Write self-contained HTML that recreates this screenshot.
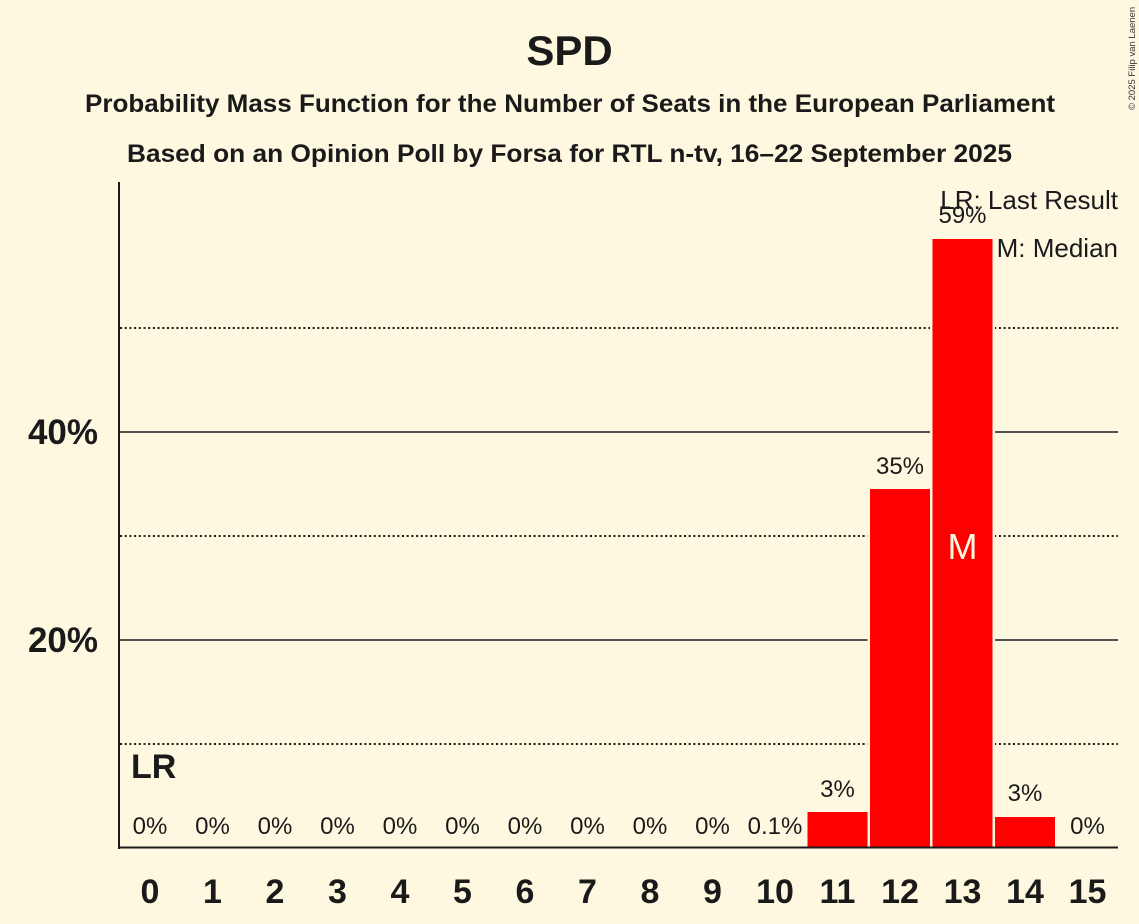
<!DOCTYPE html>
<html><head><meta charset="utf-8"><style>
html,body{margin:0;padding:0;background:#FFF8E1;}
svg{display:block;}
text{font-family:"Liberation Sans",sans-serif;fill:#1a1a1a;}
</style></head><body>
<svg width="1139" height="924" viewBox="0 0 1139 924" xmlns="http://www.w3.org/2000/svg">
<rect x="0" y="0" width="1139" height="924" fill="#FFF8E1"/>
<!-- titles -->
<text x="569.5" y="65" font-size="42" font-weight="bold" text-anchor="middle">SPD</text>
<text x="570" y="112" font-size="25" font-weight="bold" text-anchor="middle" textLength="970" lengthAdjust="spacingAndGlyphs">Probability Mass Function for the Number of Seats in the European Parliament</text>
<text x="569.5" y="162" font-size="25" font-weight="bold" text-anchor="middle" textLength="885" lengthAdjust="spacingAndGlyphs">Based on an Opinion Poll by Forsa for RTL n-tv, 16–22 September 2025</text>
<!-- copyright -->
<text transform="translate(1135,110) rotate(-90)" font-size="9.5" style="fill:#333">© 2025 Filip van Laenen</text>
<!-- gridlines -->
<g stroke="#1a1a1a">
<line x1="120" y1="744" x2="1118" y2="744" stroke-width="2" stroke-dasharray="2 2.7"/>
<line x1="120" y1="536" x2="1118" y2="536" stroke-width="2" stroke-dasharray="2 2.7"/>
<line x1="120" y1="328" x2="1118" y2="328" stroke-width="2" stroke-dasharray="2 2.7"/>
<line x1="120" y1="640" x2="1118" y2="640" stroke-width="1.6"/>
<line x1="120" y1="432" x2="1118" y2="432" stroke-width="1.6"/>
</g>
<!-- bars -->
<g fill="#FF0000" stroke="#FFF8E1" stroke-width="2.5">
<rect x="806.25" y="810.75" width="62.5" height="37.25"/>
<rect x="868.75" y="487.75" width="62.5" height="360.25"/>
<rect x="931.25" y="237.75" width="62.5" height="610.25"/>
<rect x="993.75" y="815.75" width="62.5" height="32.25"/>
</g>
<!-- axes -->
<line x1="119" y1="182" x2="119" y2="849" stroke="#1a1a1a" stroke-width="2"/>
<line x1="118" y1="847.5" x2="1118" y2="847.5" stroke="#1a1a1a" stroke-width="2"/>
<!-- y labels -->
<text x="98" y="652" font-size="35" font-weight="bold" text-anchor="end">20%</text>
<text x="98" y="444" font-size="35" font-weight="bold" text-anchor="end">40%</text>
<!-- x tick labels -->
<g font-size="34" font-weight="bold" text-anchor="middle">
<text x="150" y="903">0</text>
<text x="212.5" y="903">1</text>
<text x="275" y="903">2</text>
<text x="337.5" y="903">3</text>
<text x="400" y="903">4</text>
<text x="462.5" y="903">5</text>
<text x="525" y="903">6</text>
<text x="587.5" y="903">7</text>
<text x="650" y="903">8</text>
<text x="712.5" y="903">9</text>
<text x="775" y="903">10</text>
<text x="837.5" y="903">11</text>
<text x="900" y="903">12</text>
<text x="962.5" y="903">13</text>
<text x="1025" y="903">14</text>
<text x="1087.5" y="903">15</text>
</g>
<!-- value labels -->
<g font-size="24" text-anchor="middle">
<text x="150" y="834">0%</text>
<text x="212.5" y="834">0%</text>
<text x="275" y="834">0%</text>
<text x="337.5" y="834">0%</text>
<text x="400" y="834">0%</text>
<text x="462.5" y="834">0%</text>
<text x="525" y="834">0%</text>
<text x="587.5" y="834">0%</text>
<text x="650" y="834">0%</text>
<text x="712.5" y="834">0%</text>
<text x="775" y="834">0.1%</text>
<text x="837.5" y="797">3%</text>
<text x="900" y="474">35%</text>
<text x="962.5" y="223">59%</text>
<text x="1025" y="801">3%</text>
<text x="1087.5" y="834">0%</text>
</g>
<!-- LR marker -->
<text x="131" y="778" font-size="34" font-weight="bold">LR</text>
<!-- median marker -->
<text x="962.5" y="559" font-size="36" text-anchor="middle" style="fill:#FFF8E1">M</text>
<!-- legend -->
<text x="1118" y="209" font-size="26" text-anchor="end">LR: Last Result</text>
<text x="1118" y="257" font-size="26" text-anchor="end">M: Median</text>
</svg>
</body></html>
